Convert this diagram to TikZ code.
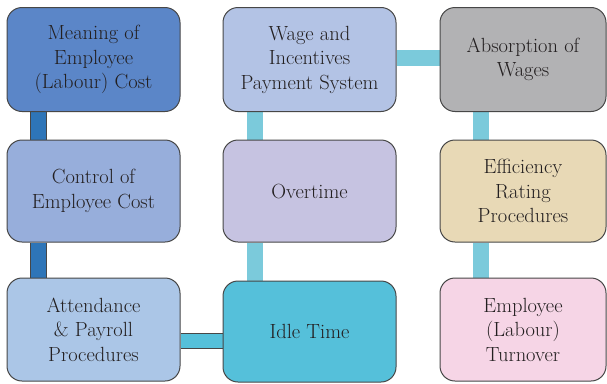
\documentclass[tikz,border=0pt]{standalone}
\usepackage{xcolor}
\usetikzlibrary{positioning,backgrounds}

\definecolor{boxline}{HTML}{474747}
\definecolor{textdark}{HTML}{231F20}
\definecolor{meaningfill}{HTML}{5B86C8}
\definecolor{controlfill}{HTML}{97AEDB}
\definecolor{attendfill}{HTML}{ABC6E7}
\definecolor{wagefill}{HTML}{B3C3E5}
\definecolor{overtimefill}{HTML}{C6C3E1}
\definecolor{idlefill}{HTML}{55C0DA}
\definecolor{absorbfill}{HTML}{B2B2B4}
\definecolor{efficfill}{HTML}{E8D9B6}
\definecolor{turnoverfill}{HTML}{F6D5E6}
\definecolor{barblue}{HTML}{2E75B8}
\definecolor{barcyan}{HTML}{7BCADB}

\begin{document}
\begin{tikzpicture}[x=1pt, y=-1pt,
  topic/.style={draw=boxline, line width=1pt, rounded corners=15pt,
    minimum width=173pt, minimum height=104pt, align=center, inner sep=2pt,
    text=textdark, font=\fontsize{20.5}{24.5}\selectfont},
  narrow/.style={minimum width=166pt},
  bluebar/.style={draw=boxline, line width=0.9pt, double=barblue, double distance=15pt},
  idlebar/.style={draw=boxline, line width=0.9pt, double=idlefill, double distance=14.5pt},
  cyanbar/.style={barcyan, line width=16pt}]
  \useasboundingbox (0,0) rectangle (607,383);

  % left column
  \node[topic, fill=meaningfill] (meaning) at (93.5, 59.5) {Meaning of\\Employee\\(Labour) Cost};
  \node[topic, fill=controlfill, minimum height=102pt] (control) at (93.5, 191) {Control of\\Employee Cost};
  \node[topic, fill=attendfill, minimum height=103pt] (attend) at (93.5, 329.5) {Attendance\\\& Payroll\\Procedures};

  % middle column
  \node[topic, fill=wagefill] (wage) at (309.5, 59.5) {Wage and\\Incentives\\Payment System};
  \node[topic, fill=overtimefill, minimum height=102pt] (overtime) at (309.5, 191) {Overtime};
  \node[topic, fill=idlefill, minimum height=101pt] (idle) at (309.5, 331.5) {Idle Time};

  % right column
  \node[topic, narrow, fill=absorbfill] (absorb) at (523, 59.5) {Absorption of\\Wages};
  \node[topic, narrow, fill=efficfill, minimum height=102pt] (effic) at (523, 191) {Efficiency\\Rating\\Procedures};
  \node[topic, narrow, fill=turnoverfill, minimum height=103pt] (turnover) at (523, 329.5) {Employee\\(Labour)\\Turnover};

  % connecting bars
  \begin{scope}[on background layer]
    \draw[bluebar] ([xshift=32pt]meaning.south west) -- ([xshift=32pt]control.north west);
    \draw[bluebar] ([xshift=32pt]control.south west) -- ([xshift=32pt]attend.north west);
    \draw[cyanbar] ([xshift=32pt]wage.south west) -- ([xshift=32pt]overtime.north west);
    \draw[cyanbar] ([xshift=32pt]overtime.south west) -- ([xshift=32pt]idle.north west);
    \draw[cyanbar] ([xshift=41pt]absorb.south west) -- ([xshift=41pt]effic.north west);
    \draw[cyanbar] ([xshift=41pt]effic.south west) -- ([xshift=41pt]turnover.north west);
    \draw[cyanbar] ([yshift=1.5pt]wage.east) -- ([yshift=1.5pt]absorb.west);
    \draw[idlebar] ([yshift=-11.5pt]attend.east) -- ([yshift=-11.5pt]attend.east -| idle.west);
  \end{scope}
\end{tikzpicture}
\end{document}
